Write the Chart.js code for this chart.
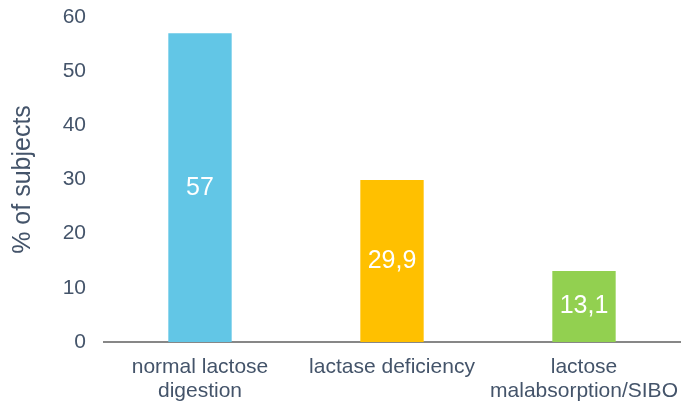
<!DOCTYPE html>
<html>
<head>
<meta charset="utf-8">
<script src="https://cdn.jsdelivr.net/npm/chart.js@4"></script>
<style>
  html, body { margin: 0; padding: 0; background: #ffffff; }
  #wrap { width: 682px; height: 406px; position: relative; }
</style>
</head>
<body>
<div id="wrap"><canvas id="c" width="682" height="406"></canvas></div>
<script>
const categories = [["normal lactose", "digestion"], "lactase deficiency", ["lactose", "malabsorption/SIBO"]];
const values = [57, 29.9, 13.1];
const barColors = ["#62C6E6", "#FFC000", "#92D050"];
const yTicks = { min: 0, max: 60, step: 10 };
const yTitle = "% of subjects";

const textColor = "#44546A";
const fontFamily = "'Liberation Sans', Arial, sans-serif";

const valueLabels = {
  id: "valueLabels",
  afterDatasetsDraw(chart) {
    const ctx = chart.ctx;
    const meta = chart.getDatasetMeta(0);
    ctx.save();
    ctx.fillStyle = "#ffffff";
    ctx.font = "25px " + fontFamily;
    ctx.textAlign = "center";
    ctx.textBaseline = "middle";
    meta.data.forEach((bar, i) => {
      const v = chart.data.datasets[0].data[i];
      const y = (bar.y + bar.base) / 2;
      ctx.fillText(String(v).replace(".", ","), bar.x, y);
    });
    ctx.restore();
  }
};

new Chart(document.getElementById("c"), {
  type: "bar",
  data: {
    labels: categories,
    datasets: [{
      data: values,
      backgroundColor: barColors,
      borderWidth: 0,
      barPercentage: 0.33,
      categoryPercentage: 1.0
    }]
  },
  options: {
    responsive: false,
    animation: false,
    devicePixelRatio: 1,
    layout: { padding: { top: 17, right: 2, bottom: 0, left: 0 } },
    plugins: {
      legend: { display: false },
      tooltip: { enabled: false }
    },
    scales: {
      x: {
        grid: { display: false, drawTicks: false },
        border: { display: true, color: "#878787", width: 2 },
        ticks: {
          color: textColor,
          font: { family: fontFamily, size: 21, lineHeight: 1.14 },
          padding: 13,
          maxRotation: 0,
          autoSkip: false
        },
        afterFit(scale) {
          scale.height = 64;
          scale.paddingLeft = 0;
          scale.paddingRight = 0;
        }
      },
      y: {
        min: yTicks.min,
        max: yTicks.max,
        grid: { display: false, drawTicks: false },
        border: { display: false },
        ticks: {
          stepSize: yTicks.step,
          color: textColor,
          font: { family: fontFamily, size: 21 },
          padding: 18
        },
        title: {
          display: true,
          text: yTitle,
          color: textColor,
          font: { family: fontFamily, size: 25 },
          padding: { top: 8, bottom: 0 }
        },
        afterFit(scale) {
          scale.width = 104;
          scale.paddingTop = 0;
          scale.paddingBottom = 0;
        }
      }
    }
  },
  plugins: [valueLabels]
});
</script>
</body>
</html>
